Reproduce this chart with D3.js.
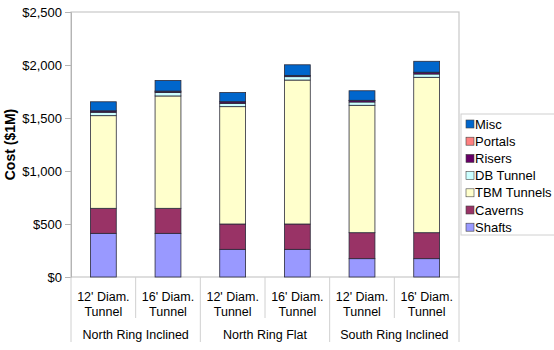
<!DOCTYPE html>
<html>
<head>
<meta charset="utf-8">
<script src="https://cdn.jsdelivr.net/npm/d3@7"></script>
<style>
  body { margin: 0; background: #fff; }
  text { font-family: "Liberation Sans", Arial, sans-serif; fill: #000; }
</style>
</head>
<body>
<svg width="554" height="350"></svg>
<script>
// categories
var groups = ["North Ring Inclined", "North Ring Flat", "South Ring Inclined"];
var tunnels = ["12' Diam.|Tunnel", "16' Diam.|Tunnel"];
var seriesNames = ["Shafts", "Caverns", "TBM Tunnels", "DB Tunnel", "Risers", "Portals", "Misc"];
var yTicks = [0, 500, 1000, 1500, 2000, 2500];

// series values ($1M), one per bar
var shafts     = [412, 412, 261, 261, 173, 173];
var caverns    = [236, 236, 239, 239, 245, 245];
var tbmTunnels = [874, 1060, 1107, 1358, 1202, 1466];
var dbTunnel   = [32, 32, 31, 32, 31, 31];
var risers     = [12, 12, 14, 10, 14, 15];
var portals    = [2, 2, 2, 2, 2, 2];
var misc       = [85, 100, 86, 100, 90, 103];

var colors = {
    "Shafts": "#9999ff",
    "Caverns": "#993366",
    "TBM Tunnels": "#ffffcc",
    "DB Tunnel": "#ccffff",
    "Risers": "#660066",
    "Portals": "#ff8080",
    "Misc": "#0066cc"
};

var valuesBySeries = [shafts, caverns, tbmTunnels, dbTunnel, risers, portals, misc];

// build rows for d3.stack
var rows = [];
groups.forEach(function(g, gi) {
    tunnels.forEach(function(t, ti) {
        var i = gi * tunnels.length + ti;
        var row = { key: g + "/" + t, group: g, label: t };
        seriesNames.forEach(function(s, si) { row[s] = valuesBySeries[si][i]; });
        rows.push(row);
    });
});

var svg = d3.select("svg");
var plotLeft = 71, plotRight = 459, plotTop = 12, plotBottom = 277;

var x = d3.scaleBand()
    .domain(rows.map(function(d) { return d.key; }))
    .range([plotLeft, plotRight])
    .paddingInner(0.6)
    .paddingOuter(0.3);

var y = d3.scaleLinear().domain([0, 2500]).range([plotBottom, plotTop]);

// plot frame
svg.append("rect")
    .attr("x", plotLeft).attr("y", plotTop)
    .attr("width", plotRight - plotLeft).attr("height", plotBottom - plotTop)
    .attr("fill", "none").attr("stroke", "#c8c8c8").attr("stroke-width", 1.2);

// y axis
var yAxis = svg.append("g")
    .attr("transform", "translate(" + plotLeft + ",0)")
    .call(d3.axisLeft(y).tickValues(yTicks).tickSize(6).tickPadding(3)
        .tickFormat(function(d) { return "$" + d3.format(",")(d); }));
yAxis.select(".domain").attr("stroke", "#b4b4b4");
yAxis.selectAll(".tick line").attr("stroke", "#b4b4b4");
yAxis.selectAll("text").style("font-size", "13px").attr("fill", "#000");

svg.append("text")
    .attr("transform", "translate(15," + ((plotTop + plotBottom) / 2) + ") rotate(-90)")
    .attr("text-anchor", "middle")
    .style("font-size", "14px")
    .style("font-weight", "bold")
    .text("Cost ($1M)");

// stacked bars
var stacked = d3.stack().keys(seriesNames)(rows);

svg.append("g").selectAll("g")
    .data(stacked)
    .enter().append("g")
    .attr("fill", function(d) { return colors[d.key]; })
    .selectAll("rect")
    .data(function(d) { return d; })
    .enter().append("rect")
    .attr("x", function(d) { return x(d.data.key); })
    .attr("width", x.bandwidth())
    .attr("y", function(d) { return y(d[1]); })
    .attr("height", function(d) { return y(d[0]) - y(d[1]); })
    .attr("stroke", "#2a2a3a")
    .attr("stroke-width", 0.8);

// x axis: category separators and labels
var step = x.step();
var sepG = svg.append("g").attr("stroke", "#d0d0d0");
d3.range(rows.length + 1).forEach(function(i) {
    var xx = plotLeft + i * step;
    var isGroup = (i % tunnels.length === 0);
    sepG.append("line")
        .attr("x1", xx).attr("x2", xx)
        .attr("y1", plotBottom).attr("y2", isGroup ? 342 : 318);
});

rows.forEach(function(d) {
    var cx = x(d.key) + x.bandwidth() / 2;
    var parts = d.label.split("|");
    parts.forEach(function(p, pi) {
        svg.append("text")
            .attr("x", cx).attr("y", 300.5 + pi * 15)
            .attr("text-anchor", "middle")
            .style("font-size", "12.5px")
            .text(p);
    });
});

groups.forEach(function(g, gi) {
    var cx = plotLeft + (gi + 0.5) * step * tunnels.length;
    svg.append("text")
        .attr("x", cx).attr("y", 338.5)
        .attr("text-anchor", "middle")
        .style("font-size", "12.5px")
        .text(g);
});

// legend
var legend = svg.append("g");
legend.append("rect")
    .attr("x", 461).attr("y", 114)
    .attr("width", 100).attr("height", 121)
    .attr("fill", "#fff").attr("stroke", "#d0d0d0");

var legendOrder = seriesNames.slice().reverse();
legendOrder.forEach(function(s, i) {
    var ly = 124 + i * 17.2;
    legend.append("rect")
        .attr("x", 466).attr("y", ly - 4)
        .attr("width", 8).attr("height", 8)
        .attr("fill", colors[s])
        .attr("stroke", "#444").attr("stroke-width", 0.6);
    legend.append("text")
        .attr("x", 475).attr("y", ly + 4.5)
        .style("font-size", "13px")
        .text(s);
});
</script>
</body>
</html>
